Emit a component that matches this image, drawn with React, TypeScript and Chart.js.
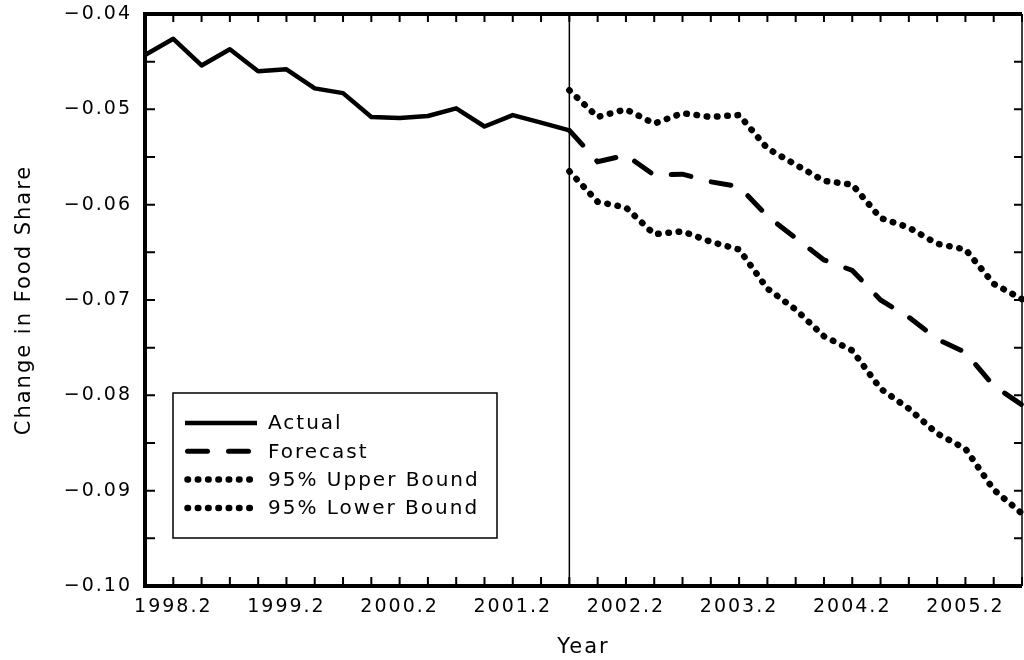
import React, { useEffect, useRef } from 'react';
import { Chart, registerables } from 'chart.js';

Chart.register(...registerables);

// ---- Data ----
const quarters = [
  '1998.1', '1998.2', '1998.3', '1998.4',
  '1999.1', '1999.2', '1999.3', '1999.4',
  '2000.1', '2000.2', '2000.3', '2000.4',
  '2001.1', '2001.2', '2001.3', '2001.4',
  '2002.1', '2002.2', '2002.3', '2002.4',
  '2003.1', '2003.2', '2003.3', '2003.4',
  '2004.1', '2004.2', '2004.3', '2004.4',
  '2005.1', '2005.2', '2005.3', '2005.4',
];

const labeledQuarters = ['1998.2', '1999.2', '2000.2', '2001.2', '2002.2', '2003.2', '2004.2', '2005.2'];

// Actual: 1998.1 - 2001.4
const actual = [
  -0.0443, -0.0426, -0.0454, -0.0437,
  -0.0460, -0.0458, -0.0478, -0.0483,
  -0.0508, -0.0509, -0.0507, -0.0499,
  -0.0518, -0.0506, -0.0514, -0.0522,
];

const forecastStart = '2001.4';

// Forecast & bounds: 2001.4 - 2005.4
const forecast = [
  -0.0522, -0.0555, -0.0548, -0.0569, -0.0568, -0.0576, -0.0581, -0.0612,
  -0.0635, -0.0658, -0.0669, -0.0700, -0.0718, -0.0741, -0.0755, -0.0790, -0.0810,
];

const upper95 = [
  -0.0480, -0.0508, -0.0500, -0.0515, -0.0504, -0.0508, -0.0506, -0.0541,
  -0.0558, -0.0575, -0.0579, -0.0614, -0.0624, -0.0641, -0.0647, -0.0683, -0.0699,
];

const lower95 = [
  -0.0565, -0.0597, -0.0603, -0.0631, -0.0628, -0.0639, -0.0647, -0.0688,
  -0.0710, -0.0738, -0.0753, -0.0793, -0.0814, -0.0840, -0.0856, -0.0899, -0.0924,
];

const yMin = -0.10;
const yMax = -0.04;
const yMinorStep = 0.005;

const seriesLabels = ['Actual', 'Forecast', '95% Upper Bound', '95% Lower Bound'];

const FONT_FAMILY = '"DejaVu Sans", sans-serif';
const FONT_SIZE = 19;
const TITLE_SIZE = 21;
const LEGEND_SIZE = 20;

export default function App() {
  const canvasRef = useRef<HTMLCanvasElement | null>(null);

  useEffect(() => {
    const canvas = canvasRef.current;
    if (!canvas) return;
    const fIdx = quarters.indexOf(forecastStart);

    const actualSeries = quarters.map((_, i) => (i < actual.length ? actual[i] : null));
    const fromForecast = (arr: number[]) =>
      quarters.map((_, i) => (i >= fIdx && i - fIdx < arr.length ? arr[i - fIdx] : null));

    const spacingPlugin = {
      id: 'spacing',
      beforeDraw(chart: any) {
        (chart.ctx as any).letterSpacing = '2px';
      },
    };

    const framePlugin = {
      id: 'frame',
      afterDatasetsDraw(chart: any) {
        const { ctx, chartArea, scales } = chart;
        const { left, right, top, bottom } = chartArea;
        const x = scales.x;
        const y = scales.y;
        ctx.save();
        ctx.strokeStyle = '#000';
        // cutoff vertical line
        const cx = x.getPixelForValue(fIdx);
        ctx.lineWidth = 1.5;
        ctx.beginPath();
        ctx.moveTo(cx, top);
        ctx.lineTo(cx, bottom);
        ctx.stroke();
        // ticks
        ctx.lineWidth = 2;
        ctx.beginPath();
        x.ticks.forEach((_t: any, i: number) => {
          const px = x.getPixelForTick(i);
          ctx.moveTo(px, bottom);
          ctx.lineTo(px, bottom - 9);
          ctx.moveTo(px, top);
          ctx.lineTo(px, top + 8);
        });
        y.ticks.forEach((_t: any, i: number) => {
          const py = y.getPixelForTick(i);
          ctx.moveTo(left, py);
          ctx.lineTo(left + 10, py);
          ctx.moveTo(right, py);
          ctx.lineTo(right - 8, py);
        });
        ctx.stroke();
        // frame
        ctx.lineWidth = 4;
        ctx.beginPath();
        ctx.moveTo(left, bottom);
        ctx.lineTo(left, top);
        ctx.lineTo(right, top);
        ctx.moveTo(left - 2, bottom);
        ctx.lineTo(right, bottom);
        ctx.stroke();
        ctx.lineWidth = 1.5;
        ctx.beginPath();
        ctx.moveTo(right, top);
        ctx.lineTo(right, bottom);
        ctx.stroke();
        ctx.restore();
      },
    };

    const legendPlugin = {
      id: 'boxLegend',
      afterDraw(chart: any) {
        const { ctx, chartArea } = chart;
        const bx = chartArea.left + 28;
        const by = chartArea.top + 379;
        const bw = 324;
        const bh = 145;
        ctx.save();
        ctx.fillStyle = '#fff';
        ctx.fillRect(bx, by, bw, bh);
        ctx.strokeStyle = '#000';
        ctx.lineWidth = 1.5;
        ctx.strokeRect(bx, by, bw, bh);
        chart.data.datasets.forEach((ds: any, i: number) => {
          const ly = by + 30 + i * 28.3;
          ctx.save();
          ctx.strokeStyle = ds.borderColor;
          ctx.lineWidth = ds.borderWidth;
          ctx.lineCap = ds.borderCapStyle || 'butt';
          ctx.setLineDash(ds.borderDash || []);
          ctx.beginPath();
          ctx.moveTo(bx + 12 + (ds.borderCapStyle === 'round' ? 2.5 : 0), ly);
          ctx.lineTo(bx + 84, ly);
          ctx.stroke();
          ctx.restore();
          ctx.fillStyle = '#000';
          ctx.font = `${LEGEND_SIZE}px ${FONT_FAMILY}`;
          (ctx as any).letterSpacing = '2px';
          ctx.textAlign = 'left';
          ctx.textBaseline = 'middle';
          ctx.fillText(ds.label, bx + 95, ly + 1);
        });
        ctx.restore();
      },
    };

    const chart = new Chart(canvas, {
      type: 'line',
      data: {
        labels: quarters,
        datasets: [
          {
            label: seriesLabels[0],
            data: actualSeries,
            borderColor: '#000',
            borderWidth: 4.5,
            borderJoinStyle: 'round',
            pointRadius: 0,
            tension: 0,
          },
          {
            label: seriesLabels[1],
            data: fromForecast(forecast),
            borderColor: '#000',
            borderWidth: 5,
            borderDash: [20, 21],
            borderCapStyle: 'round',
            pointRadius: 0,
            tension: 0,
          },
          {
            label: seriesLabels[2],
            data: fromForecast(upper95),
            borderColor: '#000',
            borderWidth: 6.5,
            borderDash: [0.5, 9.8],
            borderCapStyle: 'round',
            pointRadius: 0,
            tension: 0,
          },
          {
            label: seriesLabels[3],
            data: fromForecast(lower95),
            borderColor: '#000',
            borderWidth: 6.5,
            borderDash: [0.5, 9.8],
            borderCapStyle: 'round',
            pointRadius: 0,
            tension: 0,
          },
        ],
      } as any,
      options: {
        animation: false,
        responsive: false,
        maintainAspectRatio: false,
        devicePixelRatio: 1,
        layout: { padding: { top: 14, right: 2, left: 0, bottom: 0 } },
        plugins: {
          legend: { display: false },
          tooltip: { enabled: false },
        },
        scales: {
          x: {
            type: 'category',
            offset: false,
            grid: { display: false, drawTicks: false },
            border: { display: false },
            ticks: {
              autoSkip: false,
              maxRotation: 0,
              minRotation: 0,
              padding: 10,
              color: '#000',
              font: { family: FONT_FAMILY, size: FONT_SIZE },
              callback: function (this: any, value: any) {
                const lab = this.getLabelForValue(value);
                return labeledQuarters.includes(lab) ? lab : '';
              },
            },
            title: {
              display: true,
              text: 'Year',
              color: '#000',
              font: { family: FONT_FAMILY, size: TITLE_SIZE },
              padding: { top: 0, bottom: 0 },
            },
            afterFit: (scale: any) => {
              scale.height = 74;
              scale.paddingLeft = 0;
              scale.paddingRight = 0;
              scale.paddingTop = 0;
              scale.paddingBottom = 0;
            },
          },
          y: {
            type: 'linear',
            min: yMin,
            max: yMax,
            grid: { display: false, drawTicks: false },
            border: { display: false },
            ticks: {
              stepSize: yMinorStep,
              padding: 13,
              color: '#000',
              font: { family: FONT_FAMILY, size: FONT_SIZE },
              callback: (value: any) => {
                const v = Number(value);
                const n = Math.round(v * 200);
                if (n % 2 !== 0) return '';
                return '\u2212' + Math.abs(v).toFixed(2);
              },
            },
            title: {
              display: true,
              text: 'Change in Food Share',
              color: '#000',
              font: { family: FONT_FAMILY, size: TITLE_SIZE },
              padding: { top: 12, bottom: 0 },
            },
            afterFit: (scale: any) => {
              scale.width = 145;
              scale.paddingLeft = 0;
              scale.paddingRight = 0;
              scale.paddingTop = 0;
              scale.paddingBottom = 0;
            },
          },
        },
      } as any,
      plugins: [spacingPlugin, framePlugin, legendPlugin],
    });

    return () => {
      chart.destroy();
    };
  }, []);

  return (
    <div style={{ position: 'absolute', left: 0, top: 0, width: 1024, height: 660, background: '#fff' }}>
      <canvas ref={canvasRef} width={1024} height={660} style={{ display: 'block' }} />
    </div>
  );
}
